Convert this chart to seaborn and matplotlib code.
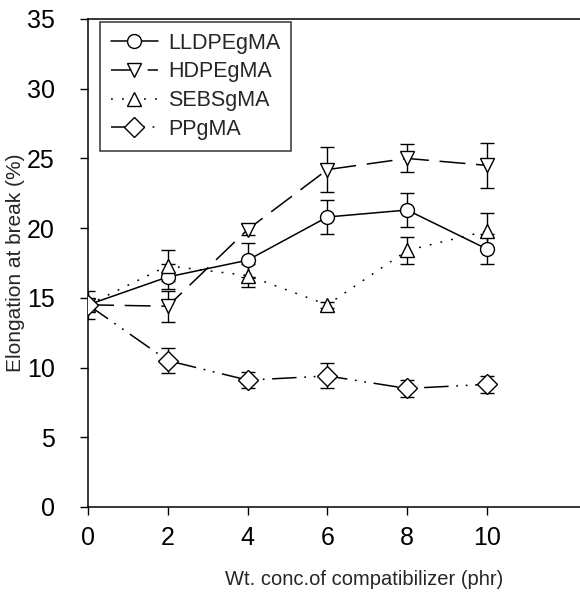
import matplotlib
matplotlib.use("Agg")
import matplotlib.pyplot as plt
import seaborn as sns
import numpy as np
import pandas as pd

sns.set_style("ticks")
plt.rcParams["font.family"] = ["Liberation Sans", "DejaVu Sans"]

# data
conc = [0, 2, 4, 6, 8, 10]
series = ["LLDPEgMA", "HDPEgMA", "SEBSgMA", "PPgMA"]
lldpe = [14.5, 16.5, 17.7, 20.8, 21.3, 18.5]
lldpe_err = [0.0, 0.9, 1.2, 1.2, 1.2, 1.1]
hdpe = [14.5, 14.4, 19.9, 24.2, 25.0, 24.5]
hdpe_err = [0.0, 1.1, 0.4, 1.6, 1.0, 1.6]
sebs = [14.5, 17.3, 16.6, 14.5, 18.4, 19.8]
sebs_err = [0.0, 1.1, 0.8, 0.2, 1.0, 1.3]
ppgma = [14.5, 10.5, 9.1, 9.4, 8.5, 8.8]
ppgma_err = [1.0, 0.9, 0.6, 0.9, 0.6, 0.6]

vals = [lldpe, hdpe, sebs, ppgma]
errs = [lldpe_err, hdpe_err, sebs_err, ppgma_err]

df = pd.DataFrame({
    "conc": conc * 4,
    "elong": sum(vals, []),
    "series": [s for s in series for _ in conc],
})

markers = {"LLDPEgMA": "o", "HDPEgMA": "v", "SEBSgMA": "^", "PPgMA": "D"}
dashes = {"LLDPEgMA": "", "HDPEgMA": (17, 7), "SEBSgMA": (1.2, 6),
          "PPgMA": (16, 5, 1.2, 5, 1.2, 5)}

# axes runs off the right edge of the figure, like the cropped original
fig = plt.figure(figsize=(5.8, 5.92), dpi=100)
ax = fig.add_axes([88 / 580, 85 / 592, 552 / 580, 488 / 592])

for v, e in zip(vals, errs):
    ax.errorbar(conc, v, yerr=e, fmt="none", ecolor="black", elinewidth=1.0,
                capsize=5, capthick=1.0, zorder=1)

sns.lineplot(data=df, x="conc", y="elong", hue="series", style="series",
             palette=["black"] * 4, markers=markers, dashes=dashes,
             markersize=10, markerfacecolor="white", markeredgecolor="black",
             markeredgewidth=1.0, linewidth=1.1, ax=ax, zorder=3)

ax.set_xlim(0, 552 / 39.9)
ax.set_ylim(0, 35)
ax.set_xticks([0, 2, 4, 6, 8, 10])
ax.set_yticks([0, 5, 10, 15, 20, 25, 30, 35])
ax.tick_params(labelsize=18, length=6, width=1, color="black", labelcolor="black")
ax.tick_params(axis="y", pad=18)
ax.tick_params(axis="x", pad=8)
ax.set_xlabel("Wt. conc.of compatibilizer (phr)", fontsize=14.5, labelpad=14)
ax.set_ylabel("Elongation at break (%)", fontsize=15, labelpad=1)
for sp in ax.spines.values():
    sp.set_color("black")
    sp.set_linewidth(1.1)

leg = ax.legend(loc="upper left", bbox_to_anchor=(12 / 552, 0.994), fontsize=15.5,
                title=None, frameon=True, fancybox=False, edgecolor="black",
                handlelength=2.2, borderpad=0.5, labelspacing=0.36,
                handletextpad=0.45, borderaxespad=0)
leg.get_frame().set_linewidth(1.1)

fig.savefig("out.png", dpi=100)
